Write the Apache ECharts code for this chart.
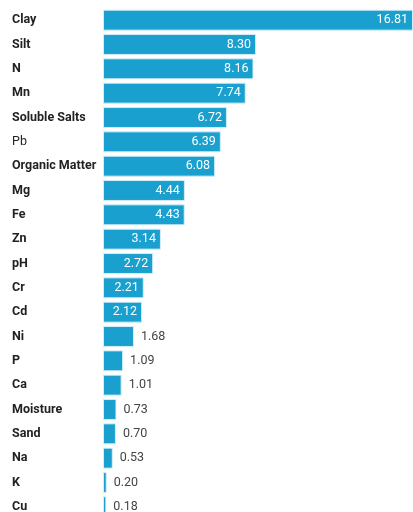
<!DOCTYPE html>
<html>
<head>
<meta charset="utf-8">
<script src="https://cdn.jsdelivr.net/npm/echarts@6/dist/echarts.min.js"></script>
<style>
  html, body { margin: 0; padding: 0; background: #ffffff; height: 512px; overflow: hidden; }
  /* the plot runs a little past the bottom edge, so the last row is clipped */
  #chart { width: 413px; height: 519px; }
</style>
</head>
<body>
<div id="chart"></div>
<script>
// Soil parameters, ranked
const categories = [
  'Clay', 'Silt', 'N', 'Mn', 'Soluble Salts', 'Pb', 'Organic Matter',
  'Mg', 'Fe', 'Zn', 'pH', 'Cr', 'Cd', 'Ni', 'P', 'Ca', 'Moisture',
  'Sand', 'Na', 'K', 'Cu'
];
const values = [
  16.81, 8.30, 8.16, 7.74, 6.72, 6.39, 6.08,
  4.44, 4.43, 3.14, 2.72, 2.21, 2.12, 1.68, 1.09, 1.01, 0.73,
  0.70, 0.53, 0.20, 0.18
];
// categories drawn in regular weight
const plainLabels = ['Pb'];

const BAR = '#1aa0cf';
const insideThreshold = 2;

const seriesData = values.map(v => {
  const inside = v >= insideThreshold;
  return {
    value: v,
    label: inside
      ? { position: 'insideRight', color: '#ffffff', distance: 5 }
      : { position: 'right', color: '#444444', distance: 7 }
  };
});

const chart = echarts.init(document.getElementById('chart'), null, { renderer: 'canvas' });
chart.setOption({
  animation: false,
  grid: { left: 103, right: 0, top: 8, bottom: 0, containLabel: false },
  xAxis: {
    type: 'value',
    min: 0,
    max: 16.81,
    show: false
  },
  yAxis: {
    type: 'category',
    data: categories,
    inverse: true,
    axisLine: { show: false },
    axisTick: { show: false },
    splitLine: { show: false },
    axisLabel: {
      align: 'left',
      margin: 91,
      fontFamily: 'Roboto',
      fontSize: 12.5,
      color: '#222222',
      formatter: name => plainLabels.includes(name) ? '{p|' + name + '}' : '{b|' + name + '}',
      rich: {
        b: { fontWeight: 'bold', fontFamily: 'Roboto', fontSize: 12.5, color: '#222222' },
        p: { fontWeight: 'normal', fontFamily: 'Roboto', fontSize: 12.5, color: '#222222' }
      }
    }
  },
  series: [{
    type: 'bar',
    data: seriesData,
    barCategoryGap: '14%',
    itemStyle: {
      color: BAR,
      borderColor: 'rgba(220,240,250,0.9)',
      borderWidth: 1
    },
    label: {
      show: true,
      fontFamily: 'Roboto',
      fontSize: 12.5,
      formatter: p => p.value.toFixed(2)
    }
  }]
});
</script>
</body>
</html>
